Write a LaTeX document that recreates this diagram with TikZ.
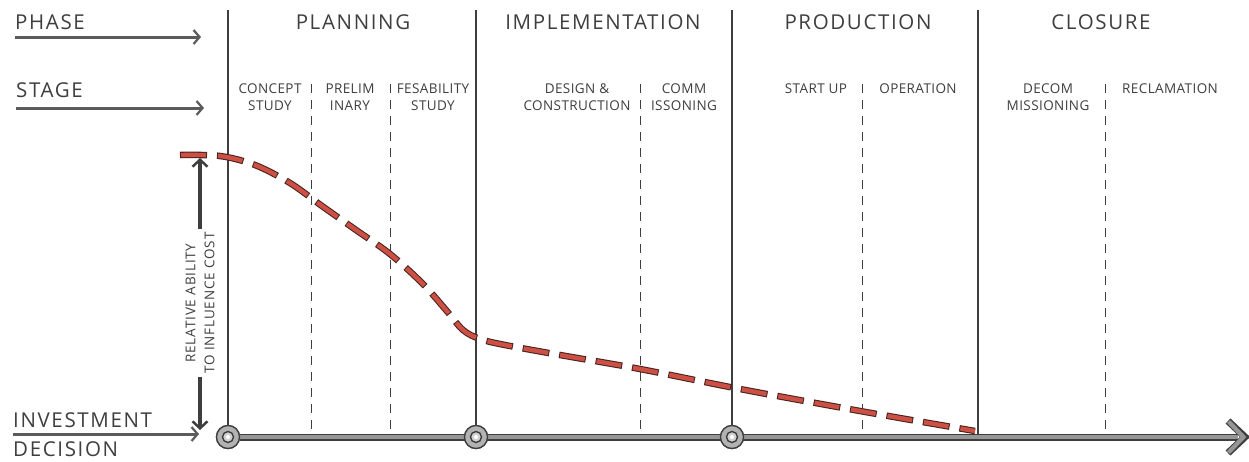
\documentclass[tikz,border=0pt]{standalone}
\usepackage{fontspec}
\setmainfont{Open Sans}
\usetikzlibrary{arrows.meta,calc}
\definecolor{pencil}{RGB}{62,62,62}
\definecolor{shaft}{RGB}{150,150,150}
\definecolor{curvered}{RGB}{205,80,68}
\definecolor{curveedge}{RGB}{72,34,30}
\begin{document}
\begin{tikzpicture}[x=1pt,y=-1pt,
  big/.style={font=\fontsize{20.5}{24}\selectfont\addfontfeatures{LetterSpace=8}, text=pencil, inner sep=0pt},
  stg/.style={font=\fontsize{13.5}{17}\selectfont\addfontfeatures{LetterSpace=3}, text=pencil, inner sep=0pt, align=center, anchor=north},
  vlab/.style={font=\fontsize{13.5}{19}\selectfont\addfontfeatures{LetterSpace=6}, text=pencil, inner sep=3pt, align=center, rotate=90},
  phaseline/.style={pencil, line width=1.1pt},
  stageline/.style={pencil, line width=1pt, dash pattern=on 9pt off 7pt},
  rowarrow/.style={pencil!85, line width=3pt, -{Straight Barb[length=6pt,width=14pt,line width=2.2pt]}},
  vtarrow/.style={pencil, line width=3.5pt, -{Straight Barb[length=7pt,width=15pt,line width=2.5pt]}},
  hub/.style={circle, minimum size=23pt, inner sep=0pt, fill=gray!60, draw=pencil, line width=1.3pt},
  hubin/.style={circle, minimum size=11pt, inner sep=0pt, fill=gray!35, draw=pencil, line width=1.4pt},
  hubdot/.style={circle, minimum size=4pt, inner sep=0pt, fill=white},
  axisout/.style={pencil, line width=7pt},
  axisin/.style={shaft, line width=4.2pt}
]
\useasboundingbox (0,0) rectangle (1249,461);

% row titles on the left
\node[big, anchor=base west] (phase) at (15,29) {PHASE};
\node[big, anchor=base west] (stage) at (16,97) {STAGE};
\node[big, anchor=base west] (invest) at (13,427) {INVESTMENT};
\node[big, anchor=base west] (decision) at (13,456) {DECISION};

% phase titles
\node[big, anchor=base] (planning) at (353,29) {PLANNING};
\node[big, anchor=base] (implement) at (603,29) {IMPLEMENTATION};
\node[big, anchor=base] (production) at (858,29) {PRODUCTION};
\node[big, anchor=base] (closure) at (1101,29) {CLOSURE};

% stage titles
\node[stg] (concept) at (270,84) {CONCEPT\\STUDY};
\node[stg] (prelim) at (350,84) {PRELIM\\INARY};
\node[stg] (feas) at (433,84) {FESABILITY\\STUDY};
\node[stg] (design) at (577,84) {DESIGN \&\\CONSTRUCTION};
\node[stg] (comm) at (684,84) {COMM\\ISSONING};
\node[stg] (startup) at (816,84) {START UP};
\node[stg] (oper) at (918,84) {OPERATION};
\node[stg] (decom) at (1048,84) {DECOM\\MISSIONING};
\node[stg] (reclam) at (1170,84) {RECLAMATION};

% hubs on the time axis
\node[hub] (h1) at (228,437) {};
\node[hub] (h2) at (476,437) {};
\node[hub] (h3) at (732,437) {};
\coordinate (axR) at (1238,437);
\coordinate (axTip) at (1245,437);
\coordinate (axP4) at (978,437);

% phase boundaries
\coordinate (t1) at (228,10);
\coordinate (t2) at (476,10);
\coordinate (t3) at (732,10);
\coordinate (t4) at (978,10);
\draw[phaseline] (t1) -- (h1);
\draw[phaseline] (t2) -- (h2);
\draw[phaseline] (t3) -- (h3);
\draw[phaseline] (t4) -- (axP4);

% stage boundaries
\foreach \sx [count=\i] in {311,390,640,862,1105}{
  \coordinate (s\i top) at (\sx,84);
  \coordinate (s\i bot) at (\sx,437);
  \draw[stageline] (s\i top) -- (s\i bot);
}

% time axis
\draw[axisout] (h1) -- (axR);
\draw[axisin] (h1) -- (axR);
\draw[pencil, line width=7pt, line join=miter] ($(axTip)+(-17,-16)$) -- (axTip) -- ($(axTip)+(-17,16)$);
\draw[shaft, line width=4.2pt, line join=miter] ($(axTip)+(-16.5,-15.5)$) -- ($(axTip)+(-1.5,0)$) -- ($(axTip)+(-16.5,15.5)$);
\foreach \h in {h1,h2,h3}{
  \node[hub] at (\h) {};
  \node[hubin] at (\h) {};
  \node[hubdot] at (\h) {};
}

% row arrows
\coordinate (pa) at (15,37);   \coordinate (pb) at (201,37);
\coordinate (sa) at (16,108);  \coordinate (sb) at (204,108);
\coordinate (ia) at (13,434);  \coordinate (ib) at (199,434);
\draw[rowarrow] (pa) -- (pb);
\draw[rowarrow] (sa) -- (sb);
\draw[rowarrow] (ia) -- (ib);

% relative ability axis
\node[vlab] (vlabel) at (200,303) {RELATIVE ABILITY\\TO INFLUENCE COST};
\coordinate (vtop) at (200,158);
\coordinate (vbot) at (200,430);
\draw[vtarrow] (vlabel.east) -- (vtop);
\draw[vtarrow] (vlabel.west) -- (vbot);

% cost influence curve
\draw[curvered, line width=4.4pt, dash pattern=on 25pt off 12pt, dash phase=36pt,
      preaction={draw=curveedge, line width=6.5pt, dash pattern=on 27pt off 10pt, dash phase=0pt}]
  plot[smooth, tension=0.55] coordinates {(180,155) (220,156) (255,165) (290,183) (322,206) (356,230) (390,254) (422,283) (446,310) (463,330) (480,339) (505,345) (560,355) (640,369) (740,389) (860,411) (975,431)};
\end{tikzpicture}
\end{document}
